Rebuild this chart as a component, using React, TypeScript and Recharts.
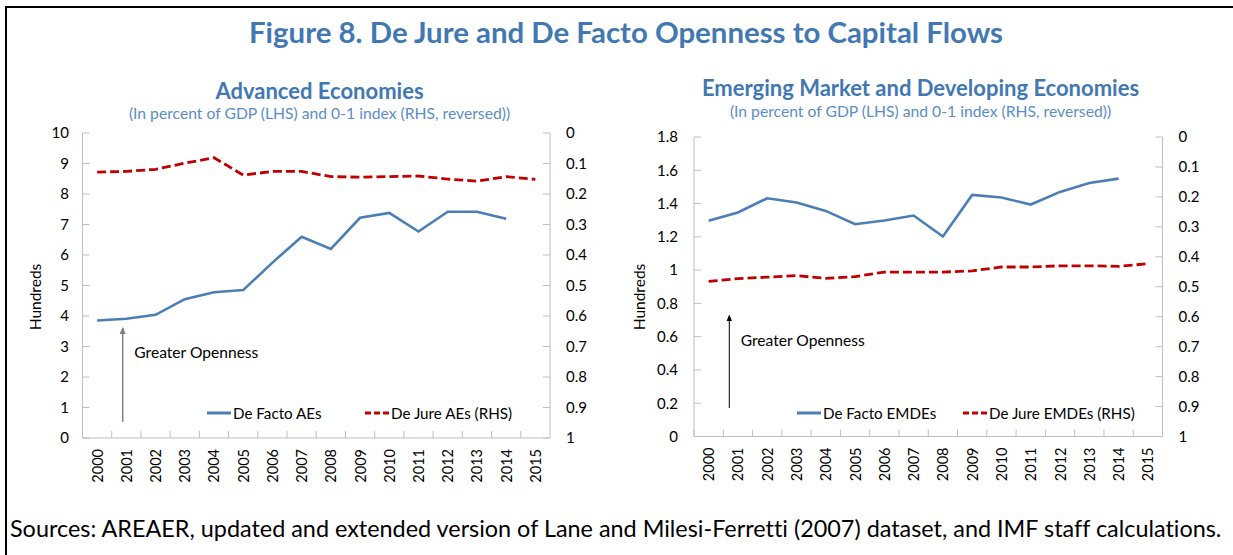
import React from 'react';
import { LineChart, Line, XAxis, YAxis, Legend } from 'recharts';

const years = ['2000', '2001', '2002', '2003', '2004', '2005', '2006', '2007', '2008', '2009', '2010', '2011', '2012', '2013', '2014', '2015'];
const aeDeFacto = [3.85, 3.91, 4.04, 4.55, 4.78, 4.85, 5.75, 6.6, 6.2, 7.22, 7.38, 6.77, 7.42, 7.42, 7.19, null];
const aeDeJure = [0.128, 0.126, 0.119, 0.099, 0.081, 0.138, 0.126, 0.126, 0.143, 0.145, 0.143, 0.141, 0.151, 0.158, 0.143, 0.152];
const emDeFacto = [1.296, 1.346, 1.432, 1.406, 1.356, 1.276, 1.298, 1.328, 1.202, 1.452, 1.436, 1.394, 1.47, 1.524, 1.55, null];
const emDeJure = [0.482, 0.473, 0.468, 0.463, 0.472, 0.466, 0.451, 0.451, 0.451, 0.447, 0.434, 0.434, 0.43, 0.43, 0.432, 0.423];
const aeLeftTicks = [0, 1, 2, 3, 4, 5, 6, 7, 8, 9, 10];
const emLeftTicks = [0, 0.2, 0.4, 0.6, 0.8, 1, 1.2, 1.4, 1.6, 1.8];
const rightTicks = [0, 0.1, 0.2, 0.3, 0.4, 0.5, 0.6, 0.7, 0.8, 0.9, 1];

const aeData = years.map((y, i) => ({ year: y, deFacto: aeDeFacto[i], deJure: aeDeJure[i] }));
const emData = years.map((y, i) => ({ year: y, deFacto: emDeFacto[i], deJure: emDeJure[i] }));

const FONT = "Lato, 'Open Sans', sans-serif";
const BLUE = '#4A7EB4';
const RED = '#C00000';
const AXIS = '#BFBFBF';
const TITLE = '#4178B2';
const SUB = '#5B8DC8';
const NOLIG: React.CSSProperties = { fontVariantLigatures: 'none' };

const fmt = (v: number) => String(Math.round(v * 10) / 10);

const XTick = (props: any) => {
  const { x, y, payload, half } = props;
  return (
    <g>
      <line x1={x - half} x2={x - half} y1={y} y2={y - 7} stroke={AXIS} strokeWidth={1} />
      <text
        x={x}
        y={y + 11}
        transform={`rotate(-90, ${x}, ${y + 11})`}
        textAnchor="end"
        dominantBaseline="central"
        fontFamily={FONT}
        fontSize={14.5}
        fill="#000"
      >
        {payload.value}
      </text>
    </g>
  );
};

type LegendItem = { x: number; label: string; color: string; dashed: boolean };

const LegendContent = ({ items }: { items: LegendItem[] }) => (
  <div style={{ position: 'relative', width: 1, height: 18 }}>
    {items.map((it) => (
      <div
        key={it.label}
        style={{
          position: 'absolute',
          left: it.x,
          top: 0,
          height: 18,
          display: 'flex',
          alignItems: 'center',
          whiteSpace: 'nowrap',
          fontFamily: FONT,
          fontSize: 15.2,
          color: '#000',
        }}
      >
        <svg width={24} height={6} style={{ display: 'block' }}>
          <line x1={0} x2={24} y1={3} y2={3} stroke={it.color} strokeWidth={3} strokeDasharray={it.dashed ? '6 3' : undefined} />
        </svg>
        <span style={{ marginLeft: 2 }}>{it.label}</span>
      </div>
    ))}
  </div>
);

type PanelProps = {
  data: any[];
  left: number;
  width: number;
  top: number;
  xHeight: number;
  leftW: number;
  rightW: number;
  rightMargin: number;
  leftTicks: number[];
  leftMax: number;
  leftGap: number;
  half: number;
  legendItems: LegendItem[];
  legendTop: number;
};

const Panel = (p: PanelProps) => (
  <div style={{ position: 'absolute', left: p.left, top: 0 }}>
    <LineChart
      width={p.width}
      height={555}
      data={p.data}
      margin={{ top: p.top, right: p.rightMargin, bottom: 0, left: 0 }}
    >
      <XAxis
        dataKey="year"
        xAxisId="main"
        height={p.xHeight}
        interval={0}
        padding={{ left: p.half, right: p.half }}
        tickLine={false}
        tickSize={0}
        tickMargin={0}
        axisLine={{ stroke: AXIS }}
        tick={<XTick half={p.half} />}
      />
      <XAxis
        dataKey="year"
        xAxisId="top"
        orientation="top"
        height={0}
        tick={false}
        tickLine={false}
        axisLine={{ stroke: AXIS }}
      />
      <YAxis
        yAxisId="left"
        width={p.leftW}
        domain={[0, p.leftMax]}
        ticks={p.leftTicks}
        interval={0}
        tickFormatter={fmt}
        tickSize={-7}
        tickMargin={7 + p.leftGap}
        tickLine={{ stroke: AXIS }}
        axisLine={{ stroke: AXIS }}
        tick={{ fontFamily: FONT, fontSize: 15, fill: '#000' }}
      />
      <YAxis
        yAxisId="right"
        orientation="right"
        reversed
        width={p.rightW}
        domain={[0, 1]}
        ticks={rightTicks}
        interval={0}
        tickFormatter={fmt}
        tickSize={-7}
        tickMargin={23}
        tickLine={{ stroke: AXIS }}
        axisLine={{ stroke: AXIS }}
        tick={{ fontFamily: FONT, fontSize: 15, fill: '#000', textAnchor: 'start' }}
      />
      <Line
        xAxisId="main"
        yAxisId="left"
        dataKey="deFacto"
        stroke={BLUE}
        strokeWidth={2.6}
        dot={false}
        isAnimationActive={false}
      />
      <Line
        xAxisId="main"
        yAxisId="right"
        dataKey="deJure"
        stroke={RED}
        strokeWidth={2.8}
        strokeDasharray="9 4"
        dot={false}
        isAnimationActive={false}
      />
      <Legend
        layout="horizontal"
        verticalAlign="middle"
        align="center"
        wrapperStyle={{ left: 0, top: p.legendTop, width: 1, height: 18 }}
        content={() => <LegendContent items={p.legendItems} />}
      />
    </LineChart>
  </div>
);

const CenterText = ({ cx, cy, size, color, bold, children }: any) => (
  <div
    style={{
      position: 'absolute',
      left: cx - 500,
      width: 1000,
      top: cy - 20,
      height: 40,
      lineHeight: '40px',
      textAlign: 'center',
      fontFamily: FONT,
      fontSize: size,
      fontWeight: bold ? 700 : 400,
      color,
      whiteSpace: 'nowrap',
      fontVariantLigatures: 'none',
    }}
  >
    {children}
  </div>
);

export default function App() {
  return (
    <div
      style={{
        position: 'fixed',
        left: 0,
        top: 0,
        width: 1233,
        height: 555,
        overflow: 'hidden',
        background: '#fff',
      }}
    >
      <div
        style={{
          position: 'absolute',
          left: 5,
          top: 6,
          width: 1400,
          height: 700,
          borderLeft: '2px solid #000',
          borderTop: '2px solid #000',
        }}
      />
      <CenterText cx={626} cy={32} size={29.4} color={TITLE} bold>
        Figure 8. De Jure and De Facto Openness to Capital Flows
      </CenterText>
      <CenterText cx={319.5} cy={91} size={22} color={TITLE} bold>
        Advanced Economies
      </CenterText>
      <CenterText cx={319.5} cy={113} size={15.7} color={SUB}>
        (In percent of GDP (LHS) and 0-1 index (RHS, reversed))
      </CenterText>
      <CenterText cx={920.5} cy={88} size={22} color={TITLE} bold>
        Emerging Market and Developing Economies
      </CenterText>
      <CenterText cx={920.5} cy={111} size={15.7} color={SUB}>
        (In percent of GDP (LHS) and 0-1 index (RHS, reversed))
      </CenterText>

      <Panel
        data={aeData}
        left={0}
        width={620}
        top={133}
        xHeight={117}
        leftW={82.5}
        rightW={60}
        rightMargin={10}
        leftTicks={aeLeftTicks}
        leftMax={10}
        leftGap={13.5}
        half={14.625}
        legendTop={404}
        legendItems={[
          { x: 207, label: 'De Facto AEs', color: BLUE, dashed: false },
          { x: 365, label: 'De Jure AEs (RHS)', color: RED, dashed: true },
        ]}
      />
      <Panel
        data={emData}
        left={620}
        width={613}
        top={137}
        xHeight={118.5}
        leftW={74}
        rightW={60}
        rightMargin={10.5}
        leftTicks={emLeftTicks}
        leftMax={1.8}
        leftGap={16}
        half={14.64}
        legendTop={404}
        legendItems={[
          { x: 177, label: 'De Facto EMDEs', color: BLUE, dashed: false },
          { x: 343, label: 'De Jure EMDEs (RHS)', color: RED, dashed: true },
        ]}
      />

      <svg
        width={1233}
        height={555}
        style={{ position: 'absolute', left: 0, top: 0, pointerEvents: 'none' }}
      >
        <line x1={122.7} x2={122.7} y1={421.7} y2={328} stroke="#7F7F7F" strokeWidth={1.5} />
        <path d="M119.7,334 L122.7,327 L125.7,334 z" fill="#7F7F7F" />
        <line x1={729.3} x2={729.3} y1={408} y2={316} stroke="#000" strokeWidth={1} />
        <path d="M726.6,321 L729.3,314.5 L732,321 z" fill="#000" />
        <text x={134.3} y={352} dominantBaseline="central" fontFamily={FONT} fontSize={15.6} fill="#000">
          Greater Openness
        </text>
        <text x={740.7} y={340} dominantBaseline="central" fontFamily={FONT} fontSize={15.6} fill="#000">
          Greater Openness
        </text>
        <text x={35} y={297} transform="rotate(-90, 35, 297)" textAnchor="middle" dominantBaseline="central" fontFamily={FONT} fontSize={15.5} fill="#000">
          Hundreds
        </text>
        <text x={639} y={297} transform="rotate(-90, 639, 297)" textAnchor="middle" dominantBaseline="central" fontFamily={FONT} fontSize={15.5} fill="#000">
          Hundreds
        </text>
        <text x={10} y={528} dominantBaseline="central" fontFamily={FONT} fontSize={23.4} fill="#000" style={NOLIG}>
          Sources: AREAER, updated and extended version of Lane and Milesi-Ferretti (2007) dataset, and IMF staff calculations.
        </text>
      </svg>
    </div>
  );
}
